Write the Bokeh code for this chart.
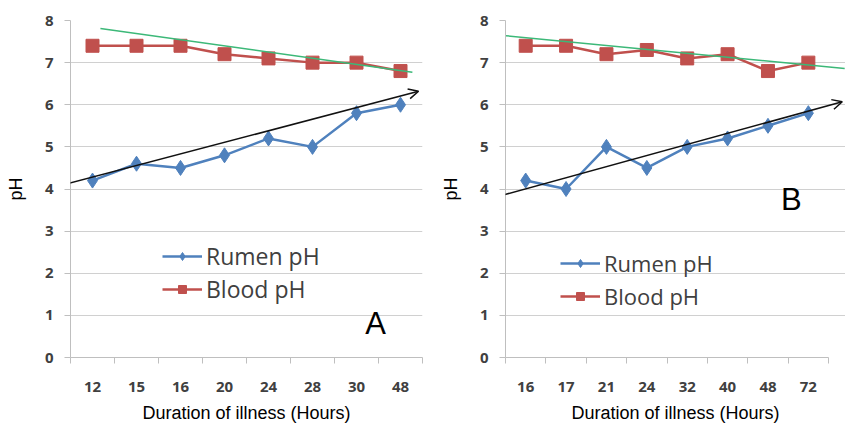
from bokeh.plotting import figure
from bokeh.models import FixedTicker, Legend, LegendItem, Label, Arrow, OpenHead, Range1d
from bokeh.layouts import row
from bokeh.embed import file_html
from bokeh.resources import INLINE

# ---- data -------------------------------------------------------------
hours_a = ["12", "15", "16", "20", "24", "28", "30", "48"]
rumen_a = [4.2, 4.6, 4.5, 4.8, 5.2, 5.0, 5.8, 6.0]
blood_a = [7.4, 7.4, 7.4, 7.2, 7.1, 7.0, 7.0, 6.8]

hours_b = ["16", "17", "21", "24", "32", "40", "48", "72"]
rumen_b = [4.2, 4.0, 5.0, 4.5, 5.0, 5.2, 5.5, 5.8]
blood_b = [7.4, 7.4, 7.2, 7.3, 7.1, 7.2, 6.8, 7.0]

# hand-drawn trend lines (x in category-position units, y in pH)
trend_blood_a_x = [1.18, 8.27]
trend_blood_a_y = [7.81, 6.77]
trend_rumen_a_x = [0.45, 8.41]
trend_rumen_a_y = [4.13, 6.32]
trend_blood_b_x = [0.5, 8.9]
trend_blood_b_y = [7.64, 6.86]
trend_rumen_b_x = [0.45, 8.84]
trend_rumen_b_y = [3.86, 6.07]

y_ticks = [0, 1, 2, 3, 4, 5, 6, 7, 8]

BLUE = "#4f81bd"
RED = "#c0504d"
GREEN = "#3cb878"
GRID = "#d0d0d0"
AXIS = "#bfbfbf"
TXT = "#404040"


def panel(hours, rumen, blood, tbx, tby, trx, try_, letter, letter_xy,
          width, x_end, border_left, border_right, border_top, legend_loc,
          legend_font, legend_spacing):
    n = len(hours)
    xs = list(range(1, n + 1))
    p = figure(width=width, height=425, output_backend="svg", toolbar_location=None,
               x_range=Range1d(0.5, x_end), y_range=Range1d(0, 8),
               min_border_left=border_left, min_border_right=border_right,
               min_border_top=border_top, min_border_bottom=68)
    p.outline_line_color = None
    p.background_fill_color = "white"
    p.border_fill_color = "white"

    # grid
    p.xgrid.grid_line_color = None
    p.ygrid.ticker = FixedTicker(ticks=y_ticks)
    p.ygrid.grid_line_color = GRID
    p.ygrid.grid_line_width = 1.2

    # y axis
    p.yaxis.ticker = FixedTicker(ticks=y_ticks)
    p.yaxis.axis_line_color = AXIS
    p.yaxis.major_tick_line_color = AXIS
    p.yaxis.major_tick_out = 6
    p.yaxis.major_tick_in = 0
    p.yaxis.minor_tick_line_color = None
    p.yaxis.major_label_standoff = 11
    p.yaxis.major_label_text_font = "Open Sans"
    p.yaxis.major_label_text_font_style = "bold"
    p.yaxis.major_label_text_font_size = "15px"
    p.yaxis.major_label_text_color = TXT
    p.yaxis.axis_label = "pH"
    p.yaxis.axis_label_text_font = "Liberation Sans"
    p.yaxis.axis_label_text_font_style = "normal"
    p.yaxis.axis_label_text_font_size = "18px"
    p.yaxis.axis_label_text_color = "black"
    p.yaxis.axis_label_standoff = 16

    # x axis: labels at category centres, ticks at category boundaries
    p.xaxis.ticker = FixedTicker(ticks=xs, minor_ticks=[x - 0.5 for x in xs] + [n + 0.5])
    p.xaxis.major_label_overrides = {x: h for x, h in zip(xs, hours)}
    p.xaxis.bounds = (0.5, n + 0.5)
    p.xaxis.axis_line_color = AXIS
    p.xaxis.major_tick_out = 0
    p.xaxis.major_tick_in = 0
    p.xaxis.major_tick_line_color = None
    p.xaxis.minor_tick_line_color = AXIS
    p.xaxis.minor_tick_out = 6
    p.xaxis.minor_tick_in = 0
    p.xaxis.major_label_standoff = 18
    p.xaxis.major_label_text_font = "Open Sans"
    p.xaxis.major_label_text_font_style = "bold"
    p.xaxis.major_label_text_font_size = "15px"
    p.xaxis.major_label_text_color = TXT
    p.xaxis.axis_label = "Duration of illness (Hours)"
    p.xaxis.axis_label_text_font = "Liberation Sans"
    p.xaxis.axis_label_text_font_style = "normal"
    p.xaxis.axis_label_text_font_size = "18px"
    p.xaxis.axis_label_text_color = "black"
    p.xaxis.axis_label_standoff = 8

    # series
    rl = p.line(xs, rumen, line_color=BLUE, line_width=2.5)
    rm = p.scatter(xs, rumen, marker="diamond", size=15,
                   fill_color=BLUE, line_color=BLUE)
    bl = p.line(xs, blood, line_color=RED, line_width=2.5)
    bm = p.scatter(xs, blood, marker="square", size=13, fill_color=RED, line_color=RED)

    # trend lines
    p.line(tbx, tby, line_color=GREEN, line_width=1.5)
    p.add_layout(Arrow(end=OpenHead(size=10, line_color="#111111", line_width=1.5),
                       x_start=trx[0], y_start=try_[0], x_end=trx[1], y_end=try_[1],
                       line_color="#111111", line_width=1.5))

    legend = Legend(items=[LegendItem(label="Rumen pH", renderers=[rl, rm]),
                           LegendItem(label="Blood pH", renderers=[bl, bm])],
                    location=legend_loc, orientation="vertical",
                    glyph_width=40, glyph_height=20, label_standoff=4,
                    label_text_font="Open Sans", label_text_font_size=legend_font,
                    label_text_color=TXT, spacing=legend_spacing, padding=0, margin=0,
                    border_line_color=None, background_fill_alpha=0)
    p.add_layout(legend, "center")

    p.add_layout(Label(x=letter_xy[0], y=letter_xy[1], text=letter,
                       text_font="Liberation Sans", text_font_size="31px",
                       text_color="black", text_baseline="alphabetic"))
    return p


pa = panel(hours_a, rumen_a, blood_a, trend_blood_a_x, trend_blood_a_y,
           trend_rumen_a_x, trend_rumen_a_y, "A", (7.2, 0.81),
           width=425, x_end=8.5, border_left=70, border_right=3, border_top=20,
           legend_loc=(92, 52), legend_font="23px", legend_spacing=1)
pb = panel(hours_b, rumen_b, blood_b, trend_blood_b_x, trend_blood_b_y,
           trend_rumen_b_x, trend_rumen_b_y, "B", (7.32, 3.75),
           width=420, x_end=8.92, border_left=80, border_right=0, border_top=18,
           legend_loc=(55, 46), legend_font="22px", legend_spacing=3)

layout = row(pa, pb)
open("out.html", "w").write(file_html(layout, INLINE))
